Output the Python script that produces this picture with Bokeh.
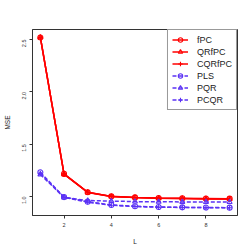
import math
from bokeh.plotting import figure
from bokeh.models import Range1d, FixedTicker, Legend, LegendItem
from bokeh.embed import file_html
from bokeh.resources import INLINE

L = [1, 2, 3, 4, 5, 6, 7, 8, 9]
fPC = [2.52, 1.215, 1.04, 1.0, 0.99, 0.985, 0.982, 0.98, 0.978]
QRfPC = [2.52, 1.212, 1.038, 0.998, 0.988, 0.982, 0.979, 0.976, 0.974]
CQRfPC = [2.52, 1.213, 1.039, 0.999, 0.989, 0.983, 0.98, 0.977, 0.975]
PLS = [1.23, 0.993, 0.948, 0.918, 0.905, 0.898, 0.895, 0.893, 0.892]
PQR = [1.21, 0.99, 0.96, 0.955, 0.95, 0.948, 0.947, 0.946, 0.945]
PCQR = [1.22, 0.99, 0.945, 0.915, 0.903, 0.896, 0.894, 0.892, 0.891]
x_ticks = [2, 4, 6, 8]
y_ticks = [1.0, 1.5, 2.0, 2.5]

RED = "#ff0000"
BLUE = "#5b32f5"
FONT = "Liberation Sans"

p = figure(width=252, height=252, output_backend="svg", toolbar_location=None,
           x_range=Range1d(0.667, 9.333), y_range=Range1d(0.817, 2.596),
           min_border_left=29, min_border_right=15, min_border_top=29, min_border_bottom=37)
p.xgrid.visible = False
p.ygrid.visible = False
p.outline_line_color = "#333333"
p.outline_line_width = 1

for ax in (p.xaxis[0], p.yaxis[0]):
    ax.major_label_text_font = FONT
    ax.major_label_text_font_size = "5.5px"
    ax.major_label_text_color = "#333333"
    ax.axis_label_text_font = FONT
    ax.axis_label_text_font_size = "6.5px"
    ax.axis_label_text_font_style = "normal"
    ax.axis_label_text_color = "#222222"
    ax.minor_tick_line_color = None
    ax.major_tick_out = 3
    ax.major_tick_in = 0
    ax.axis_line_color = "#333333"
    ax.major_tick_line_color = "#333333"

p.xaxis.major_label_standoff = 4
p.xaxis.axis_label_standoff = 8
p.yaxis.major_label_standoff = 5
p.yaxis.axis_label_standoff = 7

p.xaxis.ticker = FixedTicker(ticks=x_ticks)
p.yaxis.ticker = FixedTicker(ticks=y_ticks)
p.yaxis.major_label_overrides = {v: f"{v:.1f}" for v in y_ticks}
p.yaxis.major_label_orientation = math.pi / 2
p.xaxis.axis_label = "L"
p.yaxis.axis_label = "MSE"

series = [
    ("fPC", fPC, RED, "solid", "circle"),
    ("QRfPC", QRfPC, RED, "solid", "triangle"),
    ("CQRfPC", CQRfPC, RED, "solid", "cross"),
    ("PLS", PLS, BLUE, "4 2", "circle"),
    ("PQR", PQR, BLUE, "4 2", "triangle"),
    ("PCQR", PCQR, BLUE, "4 2", "cross"),
]

items = []
for name, ys, col, dash, marker in series:
    r1 = p.line(L, ys, line_color=col, line_width=1.5, line_dash=dash)
    r2 = p.scatter(L, ys, marker=marker, size=5, line_color=col, line_width=1.1,
                   fill_color=None)
    items.append(LegendItem(label=name, renderers=[r1, r2]))

legend = Legend(items=items, location="top_right", margin=0, padding=4, spacing=1,
                glyph_width=16, glyph_height=11, label_height=11,
                label_text_font=FONT, label_text_font_size="9px",
                label_text_color="#222222", label_standoff=9,
                border_line_color="#333333", border_line_width=1,
                background_fill_color="white", background_fill_alpha=1.0)
p.add_layout(legend)

open("out.html", "w").write(file_html(p, INLINE))
